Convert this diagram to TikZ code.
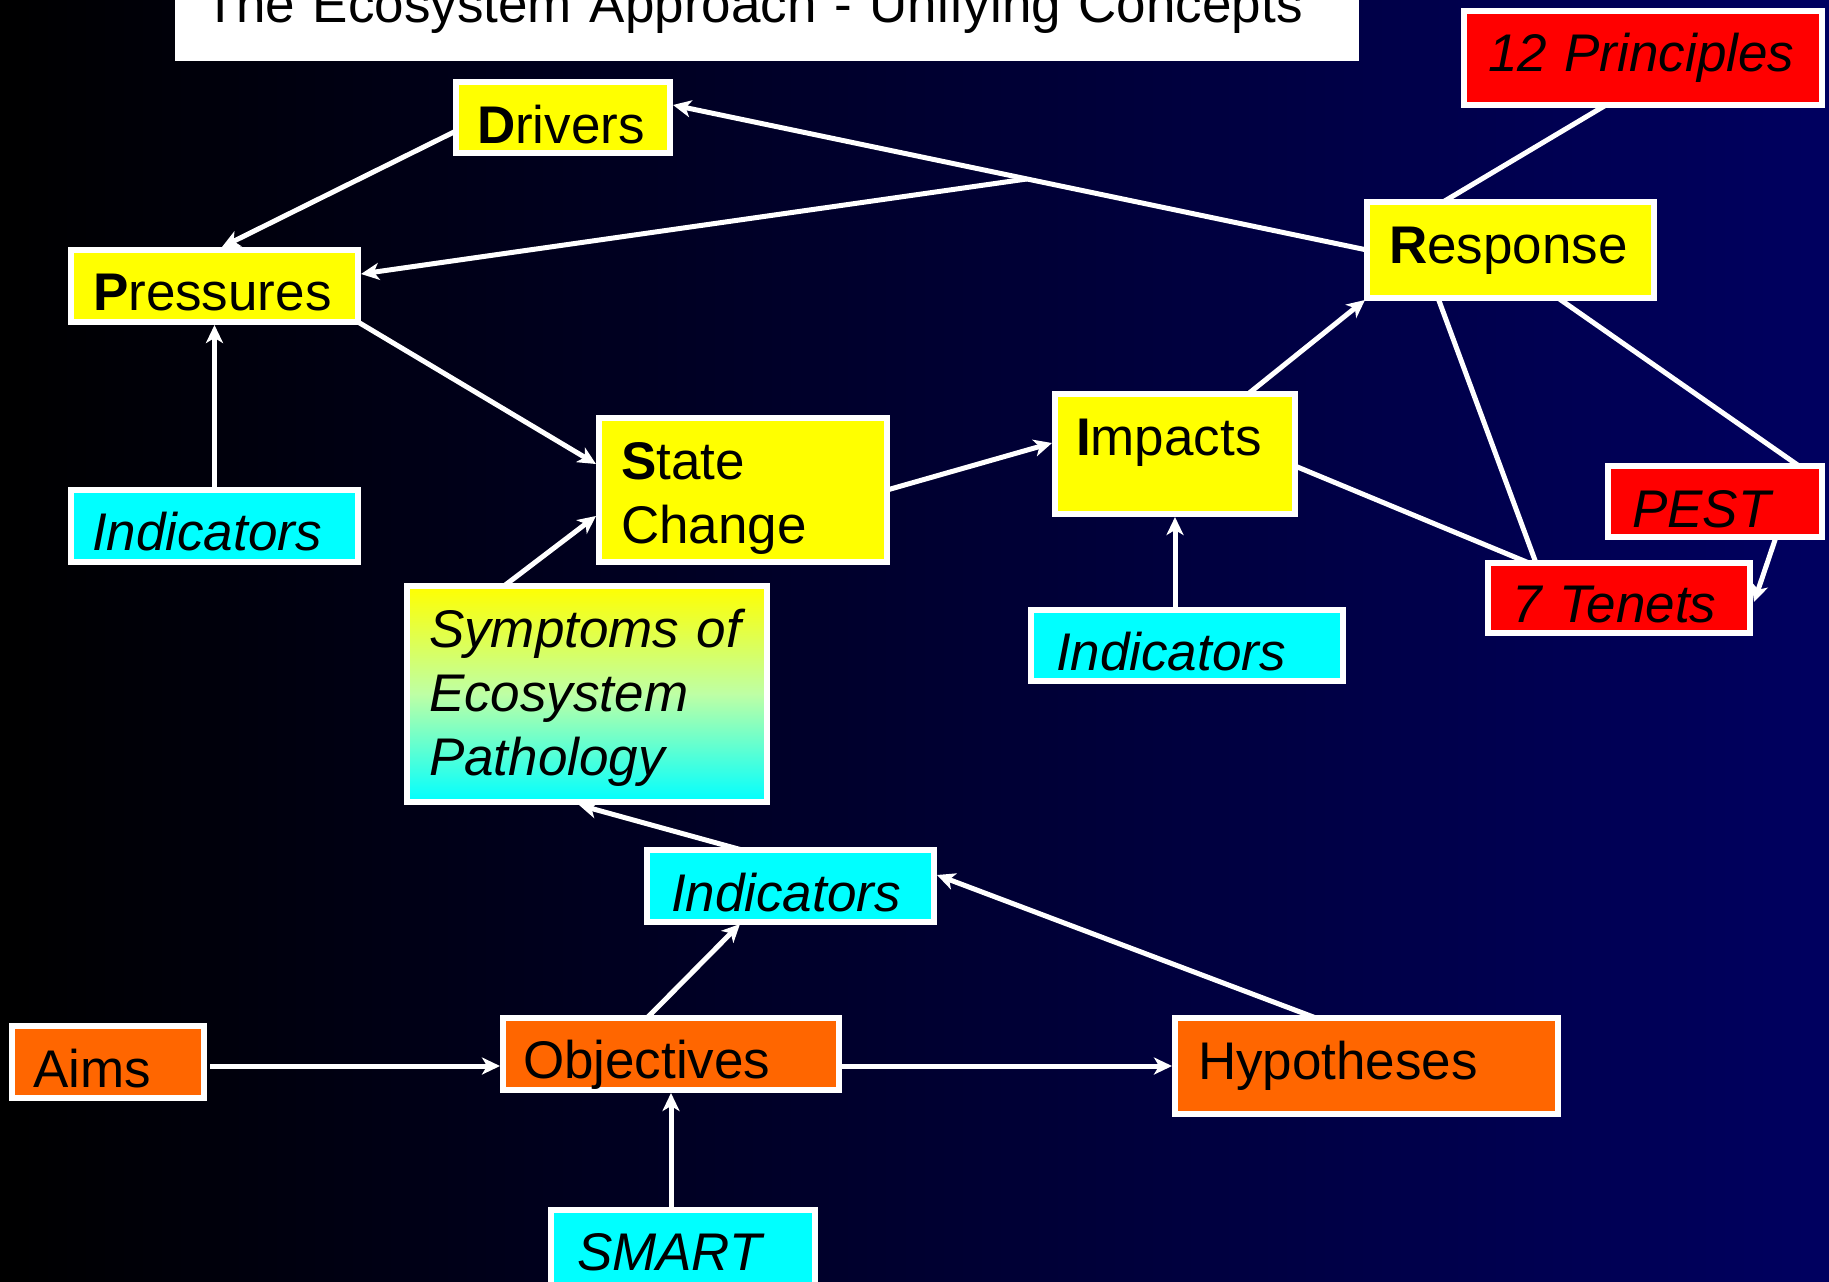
\documentclass[tikz,border=0pt]{standalone}
\usepackage{fontspec}
\setmainfont{Liberation Sans}
\usetikzlibrary{arrows.meta,calc}
\definecolor{bgnavy}{RGB}{0,0,96}
\definecolor{byellow}{RGB}{255,255,0}
\definecolor{bcyan}{RGB}{0,255,255}
\definecolor{bmid}{RGB}{190,255,165}
\definecolor{bred}{RGB}{255,0,0}
\definecolor{borange}{RGB}{255,102,0}
\pgfdeclarelayer{back}
\pgfdeclarelayer{conns}
\pgfsetlayers{back,conns,main}
\begin{document}
\begin{tikzpicture}[x=1pt,y=-1pt,
  bigfont/.style={font=\fontsize{53pt}{64pt}\selectfont},
  itfont/.style={font=\fontsize{53pt}{64pt}\selectfont\itshape},
  box/.style={draw=white, line width=6pt, anchor=north west, inner ysep=0pt,
    outer sep=0pt, align=left, text=black, bigfont,
    execute at begin node={\hyphenpenalty=10000\exhyphenpenalty=10000}},
  conn/.style={draw=white, line width=5pt},
  arr/.style={conn, -{Stealth[length=18pt,width=17pt,inset=5pt]}}
]
\useasboundingbox (0,0) rectangle (1829,1282);
\begin{pgfonlayer}{back}
  \shade[left color=black, right color=bgnavy] (0,0) rectangle (1829,1282);
\end{pgfonlayer}
\begin{scope}
\clip (0,0) rectangle (1829,1282);

% title
\node[fill=white, anchor=north west, inner xsep=29pt, inner ysep=0pt, outer sep=0pt,
  text width=1126pt, text height=63pt, text depth=38pt, align=left, bigfont]
  (title) at (175,-40) {The Ecosystem Approach - Unifying Concepts};

% nodes
\node[box, fill=byellow, inner xsep=21pt, text width=172pt, text height=61pt, text depth=10pt]
  (drivers) at (456,82) {\textbf{D}rivers};
\node[box, fill=byellow, inner xsep=22pt, text width=243pt, text height=60pt, text depth=12pt]
  (pressures) at (71,250) {\textbf{P}ressures};
\node[box, itfont, fill=bcyan, inner xsep=21pt, text width=245pt, text height=60pt, text depth=12pt]
  (indicatorsA) at (71,490) {Indicators};
\node[box, fill=byellow, inner xsep=22pt, text width=244pt, text height=61pt, text depth=83pt]
  (state) at (599,418) {\textbf{S}tate\\Change};
\node[box, fill=byellow, inner xsep=21pt, text width=198pt, text height=61pt, text depth=59pt]
  (impacts) at (1055,394) {\textbf{I}mpacts};
\node[box, fill=byellow, inner xsep=22pt, text width=243pt, text height=61pt, text depth=35pt]
  (response) at (1367,202) {\textbf{R}esponse};
\node[box, itfont, fill=bred, inner xsep=24pt, text width=310pt, text height=60.5pt, text depth=33.5pt]
  (principles) at (1464,11) {\mbox{12 Principles}};
\node[box, itfont, fill=bred, inner xsep=24pt, text width=166pt, text height=61pt, text depth=10pt]
  (pest) at (1608,466) {PEST};
\node[box, itfont, fill=bred, inner xsep=24pt, text width=214pt, text height=59pt, text depth=11pt]
  (tenets) at (1488,563) {7 Tenets};
\node[box, itfont, top color=byellow, bottom color=bcyan, middle color=bmid, inner xsep=22pt,
  text width=316pt, text height=61pt, text depth=155pt]
  (symptoms) at (407,586) {\mbox{Symptoms of}\\Ecosystem\\Pathology};
\node[box, itfont, fill=bcyan, inner xsep=24pt, text width=239pt, text height=61pt, text depth=11pt]
  (indicatorsC) at (647,850) {Indicators};
\node[box, itfont, fill=bcyan, inner xsep=25pt, text width=262pt, text height=60pt, text depth=11pt]
  (indicatorsB) at (1031,610) {Indicators};
\node[box, fill=borange, inner xsep=21pt, text width=150pt, text height=61pt, text depth=11pt]
  (aims) at (12,1026) {Aims};
\node[box, fill=borange, inner xsep=20pt, text width=296pt, text height=60pt, text depth=12pt]
  (objectives) at (503,1018) {Objectives};
\node[box, itfont, fill=bcyan, inner xsep=26pt, text width=212pt, text height=60pt, text depth=30pt]
  (smart) at (551,1210) {SMART};
\node[box, fill=borange, inner xsep=23pt, text width=337pt, text height=61pt, text depth=35pt]
  (hypotheses) at (1175,1018) {Hypotheses};

\begin{pgfonlayer}{conns}
  \coordinate (j) at ($(response.west)!0.49!([xshift=3pt,yshift=12.5pt]drivers.east)$);
  \draw[arr] (response.west) -- ([xshift=3pt,yshift=12.5pt]drivers.east);
  \draw[arr] (j) -- ([xshift=3pt,yshift=12pt]pressures.east);
  \draw[arr] ([yshift=-13.5pt]drivers.west) -- ([xshift=7.5pt,yshift=3pt]pressures.north);
  \draw[arr] (indicatorsA.north) -- ([yshift=-3pt]pressures.south);
  \draw[arr] (pressures.south east) -- ([xshift=-3pt,yshift=26pt]state.west);
  \draw[arr] ([xshift=-83pt]symptoms.north) -- ([xshift=-3pt,yshift=-26pt]state.west);
  \draw[arr] (state.east) -- ([xshift=-3pt,yshift=11pt]impacts.west);
  \draw[arr] ([xshift=73pt]impacts.north) -- ([xshift=-2pt,yshift=-2pt]response.south west);
  \draw[arr] (impacts.south |- indicatorsB.north) -- ([yshift=-3pt]impacts.south);
  \draw[conn] ([xshift=-37pt]principles.south) -- ([xshift=-67.5pt]response.north);
  \draw[conn] ([xshift=47.5pt]response.south) -- ([xshift=84pt]pest.north);
  \draw[conn] ([xshift=-72.5pt]response.south) -- ([xshift=-83pt]tenets.north);
  \draw[conn] ([yshift=-12pt]impacts.east) -- ([xshift=-90pt]tenets.north);
  \draw[arr] ([xshift=61pt]pest.south) -- ([xshift=4pt,yshift=-4pt]tenets.east);
  \draw[arr] ([xshift=-48.5pt]indicatorsC.north) -- ([xshift=-8pt,yshift=-3pt]symptoms.south);
  \draw[arr] ([xshift=-24pt]objectives.north) -- ([xshift=-50.5pt,yshift=-2pt]indicatorsC.south);
  \draw[arr] ([xshift=-50.5pt]hypotheses.north) -- ([xshift=3pt,yshift=11pt]indicatorsC.east);
  \draw[arr] ([xshift=6pt,yshift=-4pt]aims.east) -- ([xshift=-3pt,yshift=-12pt]objectives.west);
  \draw[arr] ([xshift=3pt,yshift=-12pt]objectives.east) -- ([xshift=-3pt]hypotheses.west);
  \draw[arr] (objectives.south |- smart.north) -- ([yshift=-3pt]objectives.south);
\end{pgfonlayer}
\end{scope}
\end{tikzpicture}
\end{document}
